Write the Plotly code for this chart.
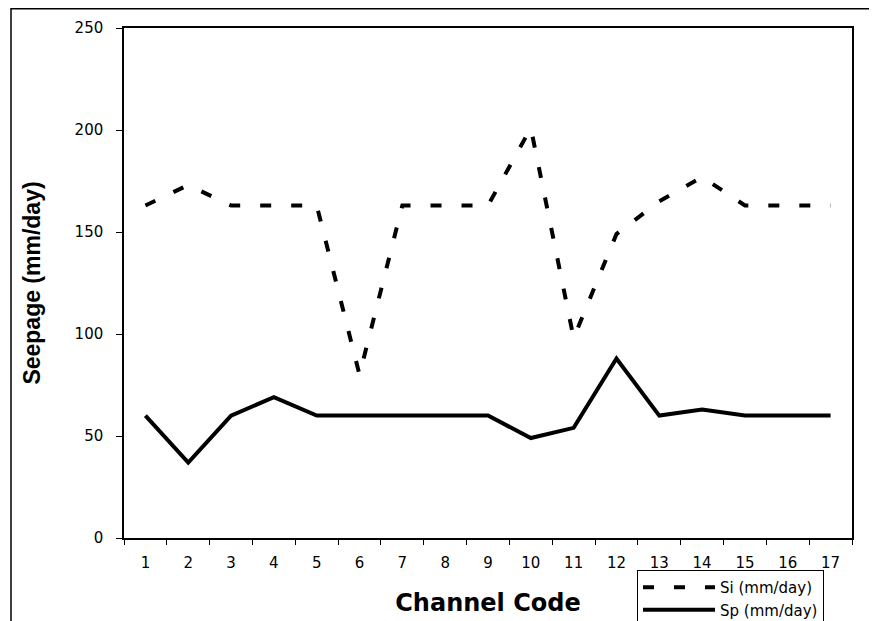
import plotly.graph_objects as go

channels = list(range(1, 18))
si_values = [163, 173, 163, 163, 163, 80, 163, 163, 163, 201, 98, 149, 165, 177, 163, 163, 163]
sp_values = [60, 37, 60, 69, 60, 60, 60, 60, 60, 49, 54, 88, 60, 63, 60, 60, 60]
y_ticks = [0, 50, 100, 150, 200, 250]

ARIAL = "Liberation Sans, Arial, sans-serif"
WIDE = "DejaVu Sans, sans-serif"

fig = go.Figure()
fig.add_trace(go.Scatter(x=channels, y=si_values, mode="lines", name="Si (mm/day)",
                         line=dict(color="black", width=4, dash="11px,20px")))
fig.add_trace(go.Scatter(x=channels, y=sp_values, mode="lines", name="Sp (mm/day)",
                         line=dict(color="black", width=4)))

# the page body adds an 8px offset; figure coords = screen coords - 8
OFF = 8
W, H = 877, 621
L, T = 124 - OFF, 28 - OFF
R = W - (852 - OFF)
B = H - (538 - OFF)
pw, ph = W - L - R, H - T - B

fig.update_layout(
    width=W, height=H,
    margin=dict(l=L, r=R, t=T, b=B, pad=0, autoexpand=False),
    paper_bgcolor="white", plot_bgcolor="white",
    font=dict(family=WIDE, color="black", size=15),
    showlegend=True,
    legend=dict(xref="container", yref="container", x=(637 - OFF) / W, y=1 - (570 - OFF) / H,
                xanchor="left", yanchor="top",
                bordercolor="black", borderwidth=1, bgcolor="white",
                font=dict(size=15, family=WIDE), tracegroupgap=0, itemwidth=72),
)
fig.update_xaxes(
    range=[0.5, 17.5], tickmode="array", tickvals=channels, ticktext=[str(c) for c in channels],
    ticks="", showline=True, linecolor="black", linewidth=1.5, mirror=True, showgrid=False,
    zeroline=False, ticklabelstandoff=10, automargin=False,
    tickfont=dict(size=15, family=WIDE),
    minor=dict(ticks="outside", tickvals=[i + 0.5 for i in range(0, 18)], ticklen=5,
               tickcolor="black", tickwidth=1, showgrid=False),
    title=dict(text="<b>Channel Code</b>", font=dict(size=24, family=WIDE), standoff=23),
)
fig.update_yaxes(
    range=[0, 250], tickmode="array", tickvals=y_ticks, ticks="outside", ticklen=6,
    tickcolor="black", showline=True, linecolor="black", linewidth=1.5, mirror=True,
    showgrid=False, zeroline=False, ticklabelstandoff=10, automargin=False,
    tickfont=dict(size=15, family=WIDE),
    title=dict(text="<b>Seepage (mm/day)</b>", font=dict(size=23, family=ARIAL), standoff=28),
)

# outer chart border
fig.add_shape(type="rect", xref="paper", yref="paper",
              x0=(11 - OFF - L) / pw, x1=(W + 5 - L) / pw,
              y0=-(H + 5 - (H - B)) / ph, y1=1 + (T - 0.75) / ph,
              line=dict(color="black", width=1.5), fillcolor="rgba(0,0,0,0)", layer="below")

fig.write_html("out.html")
